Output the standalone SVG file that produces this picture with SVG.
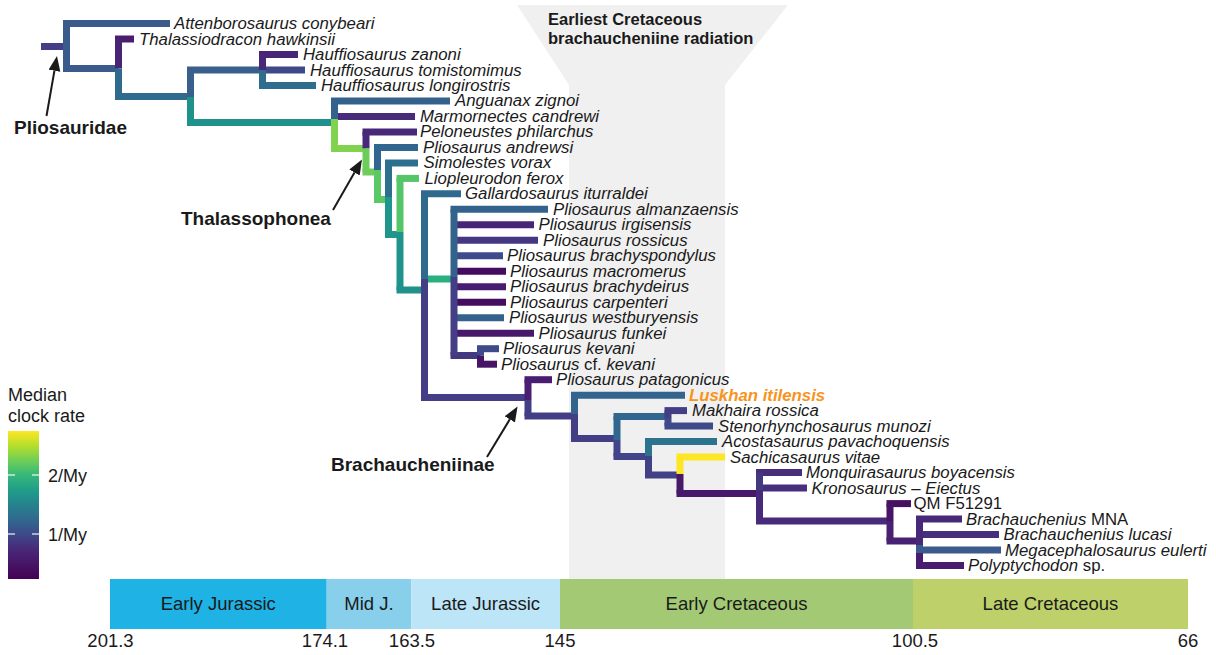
<svg xmlns="http://www.w3.org/2000/svg" width="1216" height="655" viewBox="0 0 1216 655">
<defs>
<linearGradient id="viridis" x1="0" y1="0" x2="0" y2="1">
<stop offset="0" stop-color="#fde725"/><stop offset="0.1" stop-color="#b5de2b"/><stop offset="0.2" stop-color="#6ece58"/><stop offset="0.3" stop-color="#35b779"/><stop offset="0.4" stop-color="#1f9e89"/><stop offset="0.5" stop-color="#26828e"/><stop offset="0.6" stop-color="#31688e"/><stop offset="0.7" stop-color="#3e4989"/><stop offset="0.8" stop-color="#482878"/><stop offset="1" stop-color="#440154"/>
</linearGradient>
<marker id="ah" markerUnits="userSpaceOnUse" markerWidth="16" markerHeight="13" refX="0" refY="6" orient="auto"><path d="M0,0 L15,6 L0,12 z" fill="#1a1a1a"/></marker>
<style>
line.b{stroke-width:7;stroke-linecap:butt;fill:none}
text{font-family:"Liberation Sans",Arial,Helvetica,sans-serif;fill:#1a1a1a}
.t{font-size:16.8px;font-style:italic}
.r{font-style:normal}
.clade{font-size:19px;font-weight:bold}
.title{font-size:16.5px;font-weight:bold}
.leg{font-size:18px}
.per{font-size:18.5px;text-anchor:middle}
.arr{stroke:#1a1a1a;stroke-width:2;fill:none}
.tick{stroke:#ffffff;stroke-opacity:0.75;stroke-width:1.5}
</style>
</defs>
<rect width="1216" height="655" fill="#ffffff"/>
<g id="radiation-band">
<polygon points="517,5 788,5 725,85 725,579 569,579 569,85" fill="#f0f0f0"/>
<text class="title" x="548" y="25">Earliest Cretaceous</text>
<text class="title" x="548" y="44">brachaucheniine radiation</text>
</g>
<g id="connectors">
<line class="b" x1="41" y1="46.5" x2="66.5" y2="46.5" stroke="#433e85"/>
<line class="b" x1="63" y1="68.5" x2="118.5" y2="68.5" stroke="#3b5b8c"/>
<line class="b" x1="115" y1="96.5" x2="190.5" y2="96.5" stroke="#2e6b8e"/>
<line class="b" x1="187" y1="70" x2="262.5" y2="70" stroke="#39608c"/>
<line class="b" x1="187" y1="122.5" x2="334.5" y2="122.5" stroke="#20928c"/>
<line class="b" x1="331" y1="148.5" x2="366" y2="148.5" stroke="#7fd34e"/>
<line class="b" x1="362.5" y1="172" x2="377.5" y2="172" stroke="#6ccd5a"/>
<line class="b" x1="374" y1="199.5" x2="388.5" y2="199.5" stroke="#5ac864"/>
<line class="b" x1="385" y1="234.5" x2="400" y2="234.5" stroke="#1f968b"/>
<line class="b" x1="396.5" y1="290" x2="424.5" y2="290" stroke="#21918c"/>
<line class="b" x1="421" y1="279" x2="454" y2="279" stroke="#2ab07f"/>
<line class="b" x1="421" y1="397.5" x2="528" y2="397.5" stroke="#433e85"/>
<line class="b" x1="450.5" y1="355.5" x2="480.5" y2="355.5" stroke="#44397f"/>
<line class="b" x1="524.5" y1="416" x2="574.5" y2="416" stroke="#433e85"/>
<line class="b" x1="571" y1="438.5" x2="617" y2="438.5" stroke="#423f85"/>
<line class="b" x1="613.5" y1="416.5" x2="668" y2="416.5" stroke="#31668e"/>
<line class="b" x1="613.5" y1="456.5" x2="648.5" y2="456.5" stroke="#41448a"/>
<line class="b" x1="645" y1="475" x2="680" y2="475" stroke="#424186"/>
<line class="b" x1="676.5" y1="493.5" x2="759.5" y2="493.5" stroke="#48196b"/>
<line class="b" x1="756" y1="521" x2="890" y2="521" stroke="#472a79"/>
<line class="b" x1="886.5" y1="541" x2="919.5" y2="541" stroke="#482173"/>
</g>
<g id="tips">
<g id="tip-attenborosaurus"><line class="b" x1="63" y1="23.5" x2="170" y2="23.5" stroke="#3b5b8c"/><text class="t" x="174" y="29">Attenborosaurus conybeari</text></g>
<g id="tip-thalassiodracon"><line class="b" x1="115" y1="39" x2="134" y2="39" stroke="#4a1d6f"/><text class="t" x="139" y="44.5">Thalassiodracon hawkinsii</text></g>
<g id="tip-h-zanoni"><line class="b" x1="259" y1="54.5" x2="298" y2="54.5" stroke="#482677"/><text class="t" x="303" y="60">Hauffiosaurus zanoni</text></g>
<g id="tip-h-tomistomimus"><line class="b" x1="262.5" y1="70" x2="305" y2="70" stroke="#3f4889"/><text class="t" x="310" y="75.5">Hauffiosaurus tomistomimus</text></g>
<g id="tip-h-longirostris"><line class="b" x1="259" y1="85.4" x2="316" y2="85.4" stroke="#2e6d8e"/><text class="t" x="321" y="90.9">Hauffiosaurus longirostris</text></g>
<g id="tip-anguanax"><line class="b" x1="331" y1="100.9" x2="450" y2="100.9" stroke="#34628d"/><text class="t" x="455" y="106.4">Anguanax zignoi</text></g>
<g id="tip-marmornectes"><line class="b" x1="334.5" y1="116.4" x2="415" y2="116.4" stroke="#472c7a"/><text class="t" x="420" y="121.9">Marmornectes candrewi</text></g>
<g id="tip-peloneustes"><line class="b" x1="362.5" y1="131.9" x2="417" y2="131.9" stroke="#482878"/><text class="t" x="420" y="137.4">Peloneustes philarchus</text></g>
<g id="tip-p-andrewsi"><line class="b" x1="374" y1="147.4" x2="418" y2="147.4" stroke="#31678e"/><text class="t" x="423" y="152.9">Pliosaurus andrewsi</text></g>
<g id="tip-simolestes"><line class="b" x1="385" y1="162.9" x2="418" y2="162.9" stroke="#2d708e"/><text class="t" x="423.5" y="168.4">Simolestes vorax</text></g>
<g id="tip-liopleurodon"><line class="b" x1="396.5" y1="178.4" x2="419" y2="178.4" stroke="#54c568"/><text class="t" x="424.5" y="183.9">Liopleurodon ferox</text></g>
<g id="tip-gallardosaurus"><line class="b" x1="421" y1="193.8" x2="461" y2="193.8" stroke="#30698e"/><text class="t" x="465" y="199.3">Gallardosaurus iturraldei</text></g>
<g id="tip-p-almanzaensis"><line class="b" x1="450.5" y1="209.3" x2="548" y2="209.3" stroke="#33638d"/><text class="t" x="553" y="214.8">Pliosaurus almanzaensis</text></g>
<g id="tip-p-irgisensis"><line class="b" x1="454" y1="224.8" x2="534" y2="224.8" stroke="#482677"/><text class="t" x="538.5" y="230.3">Pliosaurus irgisensis</text></g>
<g id="tip-p-rossicus"><line class="b" x1="454" y1="240.3" x2="538" y2="240.3" stroke="#453781"/><text class="t" x="543" y="245.8">Pliosaurus rossicus</text></g>
<g id="tip-p-brachyspondylus"><line class="b" x1="454" y1="255.8" x2="503" y2="255.8" stroke="#3e4a89"/><text class="t" x="507" y="261.3">Pliosaurus brachyspondylus</text></g>
<g id="tip-p-macromerus"><line class="b" x1="454" y1="271.3" x2="506" y2="271.3" stroke="#450b5e"/><text class="t" x="510" y="276.8">Pliosaurus macromerus</text></g>
<g id="tip-p-brachydeirus"><line class="b" x1="454" y1="286.8" x2="506" y2="286.8" stroke="#481d6f"/><text class="t" x="510" y="292.3">Pliosaurus brachydeirus</text></g>
<g id="tip-p-carpenteri"><line class="b" x1="454" y1="302.2" x2="506" y2="302.2" stroke="#460c5f"/><text class="t" x="510" y="307.7">Pliosaurus carpenteri</text></g>
<g id="tip-p-westburyensis"><line class="b" x1="454" y1="317.7" x2="504" y2="317.7" stroke="#34618d"/><text class="t" x="509" y="323.2">Pliosaurus westburyensis</text></g>
<g id="tip-p-funkei"><line class="b" x1="454" y1="333.2" x2="534" y2="333.2" stroke="#48186a"/><text class="t" x="538.5" y="338.7">Pliosaurus funkei</text></g>
<g id="tip-p-kevani"><line class="b" x1="477" y1="348.7" x2="499" y2="348.7" stroke="#3e4a89"/><text class="t" x="503" y="354.2">Pliosaurus kevani</text></g>
<g id="tip-p-cf-kevani"><line class="b" x1="477" y1="364.2" x2="497" y2="364.2" stroke="#481467"/><text class="t" x="501" y="369.7">Pliosaurus <tspan class="r">cf.</tspan> kevani</text></g>
<g id="tip-p-patagonicus"><line class="b" x1="524.5" y1="379.7" x2="552" y2="379.7" stroke="#481f70"/><text class="t" x="556" y="385.2">Pliosaurus patagonicus</text></g>
<g id="tip-luskhan"><line class="b" x1="571" y1="395.2" x2="685" y2="395.2" stroke="#32648e"/><text class="t" x="689" y="400.7" style="font-weight:bold;fill:#f7941d">Luskhan itilensis</text></g>
<g id="tip-makhaira"><line class="b" x1="664.5" y1="410.6" x2="687" y2="410.6" stroke="#433e85"/><text class="t" x="692" y="416.1">Makhaira rossica</text></g>
<g id="tip-stenorhynchosaurus"><line class="b" x1="664.5" y1="426.1" x2="713" y2="426.1" stroke="#3e4a89"/><text class="t" x="718" y="431.6">Stenorhynchosaurus munozi</text></g>
<g id="tip-acostasaurus"><line class="b" x1="645" y1="441.6" x2="717" y2="441.6" stroke="#2c738e"/><text class="t" x="722" y="447.1">Acostasaurus pavachoquensis</text></g>
<g id="tip-sachicasaurus"><line class="b" x1="676.5" y1="457.1" x2="725" y2="457.1" stroke="#fde725"/><text class="t" x="730" y="462.6">Sachicasaurus vitae</text></g>
<g id="tip-monquirasaurus"><line class="b" x1="756" y1="472.6" x2="802" y2="472.6" stroke="#472d7b"/><text class="t" x="806" y="478.1">Monquirasaurus boyacensis</text></g>
<g id="tip-kronosaurus"><line class="b" x1="759.5" y1="488.1" x2="807" y2="488.1" stroke="#46307e"/><text class="t" x="811.5" y="493.6">Kronosaurus – Eiectus</text></g>
<g id="tip-qm"><line class="b" x1="886.5" y1="503.6" x2="911" y2="503.6" stroke="#471161"/><text class="t r" x="913.5" y="509.1">QM F51291</text></g>
<g id="tip-brachauchenius-mna"><line class="b" x1="916" y1="519" x2="962" y2="519" stroke="#482878"/><text class="t" x="966" y="524.5">Brachauchenius <tspan class="r">MNA</tspan></text></g>
<g id="tip-brachauchenius-lucasi"><line class="b" x1="919.5" y1="534.5" x2="999" y2="534.5" stroke="#46307e"/><text class="t" x="1003.5" y="540">Brachauchenius lucasi</text></g>
<g id="tip-megacephalosaurus"><line class="b" x1="916" y1="550" x2="1001" y2="550" stroke="#3d5a8c"/><text class="t" x="1005" y="555.5">Megacephalosaurus eulerti</text></g>
<g id="tip-polyptychodon"><line class="b" x1="916" y1="565.5" x2="964" y2="565.5" stroke="#481d6f"/><text class="t" x="968" y="571">Polyptychodon <tspan class="r">sp.</tspan></text></g>
</g>
<g id="nodes">
<g id="node-A"><line class="b" x1="66.5" y1="23.5" x2="66.5" y2="68.5" stroke="#3b5b8c"/></g>
<g id="node-B"><line class="b" x1="118.5" y1="39" x2="118.5" y2="68.5" stroke="#482475"/><line class="b" x1="118.5" y1="68.5" x2="118.5" y2="96.5" stroke="#2e6b8e"/></g>
<g id="node-C"><line class="b" x1="190.5" y1="70" x2="190.5" y2="97" stroke="#39608c"/><line class="b" x1="190.5" y1="97" x2="190.5" y2="122.5" stroke="#20928c"/></g>
<g id="node-hauffiosaurus"><line class="b" x1="262.5" y1="54.5" x2="262.5" y2="70" stroke="#482878"/><line class="b" x1="262.5" y1="70" x2="262.5" y2="85.4" stroke="#2e6d8e"/></g>
<g id="node-D"><line class="b" x1="334.5" y1="100.9" x2="334.5" y2="119" stroke="#33638d"/><line class="b" x1="334.5" y1="119" x2="334.5" y2="148.5" stroke="#7fd34e"/></g>
<g id="node-E"><line class="b" x1="366" y1="131.9" x2="366" y2="148.5" stroke="#482878"/><line class="b" x1="366" y1="148.5" x2="366" y2="172" stroke="#6ccd5a"/></g>
<g id="node-F"><line class="b" x1="377.5" y1="147.4" x2="377.5" y2="170" stroke="#31678e"/><line class="b" x1="377.5" y1="170" x2="377.5" y2="199.5" stroke="#5ac864"/></g>
<g id="node-G"><line class="b" x1="388.5" y1="162.9" x2="388.5" y2="197" stroke="#2d708e"/><line class="b" x1="388.5" y1="197" x2="388.5" y2="234.5" stroke="#1f968b"/></g>
<g id="node-H"><line class="b" x1="400" y1="178.4" x2="400" y2="232" stroke="#54c568"/><line class="b" x1="400" y1="232" x2="400" y2="290" stroke="#20928c"/></g>
<g id="node-I"><line class="b" x1="424.5" y1="193.8" x2="424.5" y2="279" stroke="#30698e"/><line class="b" x1="424.5" y1="279" x2="424.5" y2="397.5" stroke="#433e85"/></g>
<g id="node-pliosaurus"><line class="b" x1="454" y1="209.3" x2="454" y2="277" stroke="#33638d"/><line class="b" x1="454" y1="277" x2="454" y2="355.5" stroke="#433e85"/></g>
<g id="node-kevani"><line class="b" x1="480.5" y1="348.7" x2="480.5" y2="355.5" stroke="#3e4a89"/><line class="b" x1="480.5" y1="355.5" x2="480.5" y2="364.2" stroke="#481467"/></g>
<g id="node-brachaucheniinae"><line class="b" x1="528" y1="379.7" x2="528" y2="400" stroke="#4a1e70"/><line class="b" x1="528" y1="400" x2="528" y2="416" stroke="#433e85"/></g>
<g id="node-L"><line class="b" x1="574.5" y1="395.2" x2="574.5" y2="414" stroke="#32648e"/><line class="b" x1="574.5" y1="414" x2="574.5" y2="438.5" stroke="#423f85"/></g>
<g id="node-M"><line class="b" x1="617" y1="416.5" x2="617" y2="440" stroke="#31668e"/><line class="b" x1="617" y1="440" x2="617" y2="456.5" stroke="#41448a"/></g>
<g id="node-N"><line class="b" x1="668" y1="410.6" x2="668" y2="418" stroke="#433e85"/><line class="b" x1="668" y1="418" x2="668" y2="426.1" stroke="#3e4a89"/></g>
<g id="node-O"><line class="b" x1="648.5" y1="441.6" x2="648.5" y2="456" stroke="#2c738e"/><line class="b" x1="648.5" y1="456" x2="648.5" y2="475" stroke="#424186"/></g>
<g id="node-P"><line class="b" x1="680" y1="457.1" x2="680" y2="474" stroke="#fde725"/><line class="b" x1="680" y1="474" x2="680" y2="493.5" stroke="#48196b"/></g>
<g id="node-Q"><line class="b" x1="759.5" y1="472.6" x2="759.5" y2="490" stroke="#44387f"/><line class="b" x1="759.5" y1="490" x2="759.5" y2="521" stroke="#472a79"/></g>
<g id="node-R"><line class="b" x1="890" y1="503.6" x2="890" y2="521" stroke="#481467"/><line class="b" x1="890" y1="521" x2="890" y2="541" stroke="#482173"/></g>
<g id="node-S"><line class="b" x1="919.5" y1="519" x2="919.5" y2="545" stroke="#482878"/><line class="b" x1="919.5" y1="545" x2="919.5" y2="553" stroke="#3d5a8c"/><line class="b" x1="919.5" y1="553" x2="919.5" y2="565.5" stroke="#481d6f"/></g>
</g>
<g id="clade-labels">
<g id="label-pliosauridae"><line class="arr" x1="46.5" y1="116" x2="54.4" y2="70.8" marker-end="url(#ah)"/><text class="clade" x="14" y="134">Pliosauridae</text></g>
<g id="label-thalassophonea"><line class="arr" x1="333" y1="210" x2="354.5" y2="172.5" marker-end="url(#ah)"/><text class="clade" x="181" y="225">Thalassophonea</text></g>
<g id="label-brachaucheniinae"><line class="arr" x1="487" y1="457" x2="509.8" y2="419.3" marker-end="url(#ah)"/><text class="clade" x="331" y="471">Brachaucheniinae</text></g>
</g>
<g id="legend">
<text class="leg" x="8" y="400.5">Median</text>
<text class="leg" x="8" y="421.5">clock rate</text>
<rect x="8" y="431" width="31" height="148" fill="url(#viridis)"/>
<line class="tick" x1="8" y1="475" x2="15" y2="475"/><line class="tick" x1="32" y1="475" x2="39" y2="475"/>
<line class="tick" x1="8" y1="534" x2="15" y2="534"/><line class="tick" x1="32" y1="534" x2="39" y2="534"/>
<text class="leg" x="48" y="481.5">2/My</text>
<text class="leg" x="48" y="541">1/My</text>
</g>
<g id="timescale">
<rect x="110" y="579" width="216.7" height="50" fill="#1fb2e5"/>
<rect x="326.7" y="579" width="84.5" height="50" fill="#87cfea"/>
<rect x="411.2" y="579" width="148.8" height="50" fill="#bde5f8"/>
<rect x="560" y="579" width="353" height="50" fill="#a3c975"/>
<rect x="913" y="579" width="275" height="50" fill="#bdd069"/>
<text class="per" x="218.3" y="610">Early Jurassic</text>
<text class="per" x="369" y="610">Mid J.</text>
<text class="per" x="485.6" y="610">Late Jurassic</text>
<text class="per" x="736.5" y="610">Early Cretaceous</text>
<text class="per" x="1050.5" y="610">Late Cretaceous</text>
<text class="per" x="110.5" y="647">201.3</text>
<text class="per" x="325" y="647">174.1</text>
<text class="per" x="412" y="647">163.5</text>
<text class="per" x="560" y="647">145</text>
<text class="per" x="915" y="647">100.5</text>
<text class="per" x="1188" y="647">66</text>
</g>
</svg>
